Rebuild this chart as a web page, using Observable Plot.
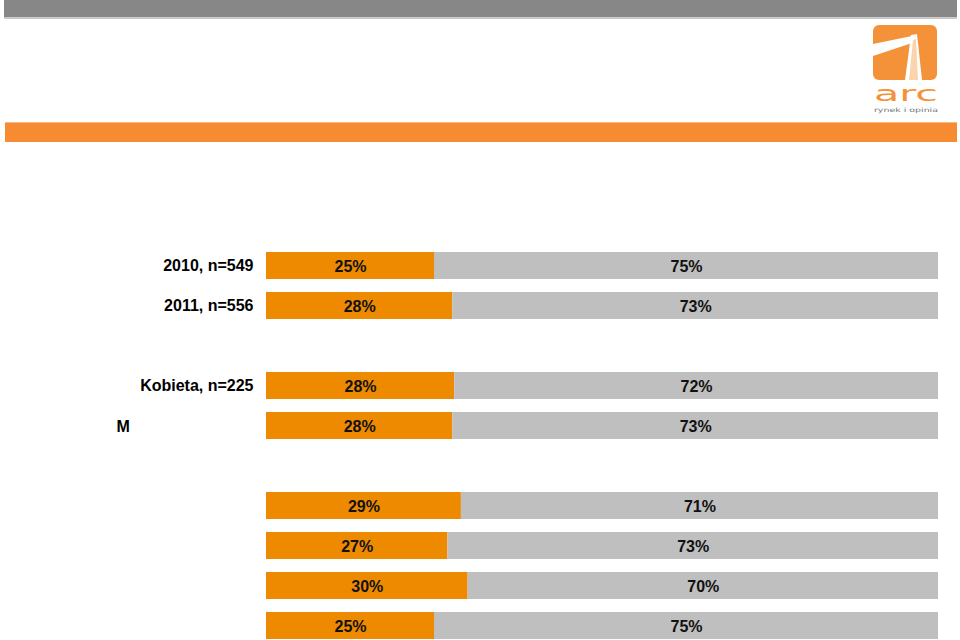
<!DOCTYPE html>
<html>
<head>
<meta charset="utf-8">
<script src="https://cdn.jsdelivr.net/npm/d3@7"></script>
<script src="https://cdn.jsdelivr.net/npm/@observablehq/plot@0.6"></script>
<style>
  html, body { margin: 0; padding: 0; width: 960px; height: 640px; overflow: hidden; background: #fff; font-family: "Liberation Sans", Arial, sans-serif; }
  #topbar { position: absolute; left: 4px; top: 0; width: 953px; height: 17px; background: #878787; border-bottom: 2px solid #c9c9c9; }
  #band { position: absolute; left: 5px; top: 122px; width: 952px; height: 19px; background: #f68b31; border-top: 1px solid #f9b97f; }
  #logo { position: absolute; left: 866px; top: 20px; width: 80px; height: 96px; }
  #chart { position: absolute; left: 0; top: 240px; }
</style>
</head>
<body>
<div id="topbar"></div>
<svg id="logo" viewBox="866 20 80 96" xmlns="http://www.w3.org/2000/svg">
  <rect x="873" y="25" width="64" height="55" rx="6" fill="#f4923a"/>
  <polygon points="873,44 912,36 912,43 873,56" fill="#fff"/>
  <polygon points="911,35 917,34 922,80 905,80" fill="#fff"/>
  <polygon points="913,40 916,39 918,80 909,80" fill="#fbd3ac"/>
  <text x="874" y="101" textLength="64" lengthAdjust="spacingAndGlyphs" font-family="'DejaVu Sans', sans-serif" font-size="22" fill="#f4923a">arc</text>
  <text x="874" y="112" textLength="64" lengthAdjust="spacingAndGlyphs" font-family="'DejaVu Sans', sans-serif" font-size="6" fill="#777">rynek i opinia</text>
</svg>
<div id="band"></div>
<div id="chart"></div>
<script>
// --- data ---
const slots = ["r1", "r2", "gap1", "r3", "r4", "gap2", "r5", "r6", "r7", "r8"];
const rowIds = ["r1", "r2", "r3", "r4", "r5", "r6", "r7", "r8"];
const rowLabels = ["2010, n=549", "2011, n=556", "Kobieta, n=225", "M", "", "", "", ""];
const answers = ["Tak", "Nie"];
const yesValues = [25, 28, 28, 28, 29, 27, 30, 25];
const noValues = [75, 73, 72, 73, 71, 73, 70, 75];
const clippedLabel = "M";

const table = [];
rowIds.forEach((id, i) => {
  table.push({slot: id, answer: answers[0], value: yesValues[i]});
  table.push({slot: id, answer: answers[1], value: noValues[i]});
});
const labelOf = Object.fromEntries(rowIds.map((id, i) => [id, rowLabels[i]]));

const font = "'Liberation Sans', Arial, sans-serif";
const stackOpts = {offset: "normalize", x: "value", y: "slot", z: "answer", order: answers};

const chart = Plot.plot({
  width: 960,
  height: 405,
  marginLeft: 266,
  marginRight: 22,
  marginTop: 5,
  marginBottom: 0,
  style: {fontFamily: font, fontSize: "16px", color: "#000", background: "transparent"},
  x: {domain: [0, 1], axis: null},
  y: {domain: slots, paddingInner: 0.325, paddingOuter: 0.1625, axis: null},
  color: {domain: answers, range: ["#ee8a00", "#bfbfbf"]},
  marks: [
    Plot.barX(table, Plot.stackX({...stackOpts, fill: "answer"})),
    Plot.text(table, Plot.stackX({...stackOpts, text: d => d.value + "%", fill: "#111", fontSize: 16, fontWeight: "bold", dy: 1})),
    Plot.axisY({
      tickSize: 0,
      tickPadding: 13,
      tickFormat: id => (labelOf[id] && labelOf[id] !== clippedLabel) ? labelOf[id] : "",
      fontSize: 16,
      fontWeight: "bold",
      fill: "#000",
      label: null
    }),
    Plot.text(rowIds.filter(id => labelOf[id] === clippedLabel), {
      y: d => d,
      text: d => labelOf[d],
      frameAnchor: "left",
      textAnchor: "start",
      dx: -150,
      dy: 1,
      fontSize: 16,
      fontWeight: "bold",
      fill: "#000"
    })
  ]
});
document.getElementById("chart").appendChild(chart);
</script>
</body>
</html>
